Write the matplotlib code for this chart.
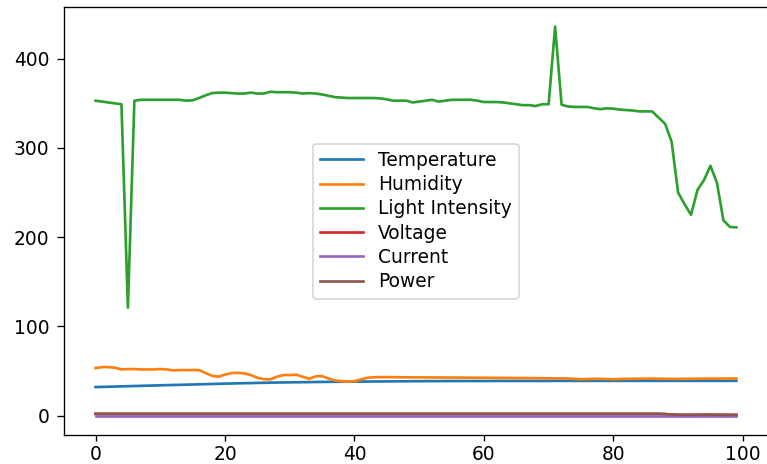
import matplotlib
matplotlib.use("Agg")
import matplotlib.pyplot as plt

# sensor readings, one per sample index
temperature = [
    32.0, 32.2, 32.4, 32.6, 32.8, 33.0, 33.2, 33.4, 33.6, 33.8,
    34.0, 34.2, 34.4, 34.5, 34.7, 34.9, 35.1, 35.3, 35.5, 35.7,
    35.9, 36.0, 36.2, 36.4, 36.5, 36.7, 36.8, 37.0, 37.1, 37.2,
    37.3, 37.4, 37.5, 37.6, 37.7, 37.8, 37.9, 38.0, 38.0, 38.1,
    38.1, 38.2, 38.2, 38.3, 38.3, 38.4, 38.4, 38.5, 38.5, 38.6,
    38.6, 38.7, 38.7, 38.7, 38.8, 38.8, 38.8, 38.8, 38.8, 38.8,
    38.8, 38.8, 38.9, 38.9, 38.9, 38.9, 38.9, 38.9, 38.9, 38.9,
    38.9, 39.0, 39.0, 39.0, 39.0, 39.0, 39.0, 39.0, 39.0, 39.0,
    39.0, 39.0, 39.0, 39.0, 39.0, 39.0, 39.0, 39.0, 39.0, 39.0,
    39.0, 39.0, 39.0, 39.0, 39.0, 39.0, 39.0, 39.0, 39.0, 39.0,
]
humidity = [
    53.3, 54.4, 54.4, 53.7, 51.8, 52.2, 52.2, 51.8, 51.8, 51.8,
    52.2, 51.8, 50.7, 51.1, 51.1, 51.1, 51.1, 47.7, 44.7, 43.6,
    46.0, 47.7, 48.0, 47.3, 45.5, 42.4, 40.9, 40.6, 43.6, 45.5,
    45.5, 45.9, 43.6, 41.3, 44.0, 44.3, 41.7, 39.4, 38.7, 38.0,
    38.7, 40.6, 42.4, 43.0, 43.2, 43.2, 43.1, 43.0, 43.0, 42.9,
    42.9, 42.9, 42.8, 42.8, 42.8, 42.7, 42.7, 42.6, 42.6, 42.5,
    42.5, 42.4, 42.4, 42.3, 42.3, 42.2, 42.2, 42.1, 42.0, 41.9,
    41.9, 41.8, 41.8, 41.6, 41.2, 40.8, 41.0, 41.3, 41.3, 41.0,
    40.7, 41.1, 41.3, 41.3, 41.4, 41.4, 41.5, 41.4, 41.3, 41.2,
    41.2, 41.3, 41.3, 41.4, 41.4, 41.5, 41.5, 41.6, 41.6, 41.6,
]
light_intensity = [
    353, 352, 351, 350, 349, 121, 353, 354, 354, 354,
    354, 354, 354, 354, 353, 353.5, 356, 359, 361.5, 362,
    362, 361.5, 361, 361, 362, 361, 361, 363, 362.5, 362.5,
    362.5, 362, 361, 361.5, 361, 360, 358.5, 357, 356.5, 356,
    356, 356, 356, 356, 355.5, 354.5, 353, 353, 353, 351,
    352, 353, 354, 352, 353, 354, 354, 354, 354, 353,
    351.5, 351.5, 351.5, 351, 350, 349, 348, 348, 347, 349,
    349, 436, 348.5, 346.5, 346, 346, 346, 344.5, 343.5, 344.5,
    344, 343, 342.5, 342, 341, 341, 341, 334, 327, 307,
    250, 237, 225, 253, 264, 280, 261, 219, 211.5, 211,
]
voltage = [
    2.0, 2.0, 2.0, 2.0, 2.0, 2.0, 2.0, 2.0, 2.0, 2.0,
    2.0, 2.0, 2.0, 2.0, 2.0, 2.0, 2.0, 2.0, 2.0, 2.0,
    2.0, 2.0, 2.0, 2.0, 2.0, 2.0, 2.0, 2.0, 2.0, 2.0,
    2.0, 2.0, 2.0, 2.0, 2.0, 2.0, 2.0, 2.0, 2.0, 2.0,
    2.0, 2.0, 2.0, 2.0, 2.0, 2.0, 2.0, 2.0, 2.0, 2.0,
    2.0, 2.0, 2.0, 2.0, 2.0, 2.0, 2.0, 2.0, 2.0, 2.0,
    2.0, 2.0, 2.0, 2.0, 2.0, 2.0, 2.0, 2.0, 2.0, 2.0,
    2.0, 2.0, 2.0, 2.0, 2.0, 2.0, 2.0, 2.0, 2.0, 2.0,
    2.0, 2.0, 2.0, 2.0, 2.0, 2.0, 2.0, 2.0, 1.7, 1.2,
    0.9, 0.8, 0.8, 0.9, 1.0, 1.0, 0.9, 0.8, 0.8, 0.8,
]
current = [
    0.1, 0.1, 0.1, 0.1, 0.1, 0.1, 0.1, 0.1, 0.1, 0.1,
    0.1, 0.1, 0.1, 0.1, 0.1, 0.1, 0.1, 0.1, 0.1, 0.1,
    0.1, 0.1, 0.1, 0.1, 0.1, 0.1, 0.1, 0.1, 0.1, 0.1,
    0.1, 0.1, 0.1, 0.1, 0.1, 0.1, 0.1, 0.1, 0.1, 0.1,
    0.1, 0.1, 0.1, 0.1, 0.1, 0.1, 0.1, 0.1, 0.1, 0.1,
    0.1, 0.1, 0.1, 0.1, 0.1, 0.1, 0.1, 0.1, 0.1, 0.1,
    0.1, 0.1, 0.1, 0.1, 0.1, 0.1, 0.1, 0.1, 0.1, 0.1,
    0.1, 0.1, 0.1, 0.1, 0.1, 0.1, 0.1, 0.1, 0.1, 0.1,
    0.1, 0.1, 0.1, 0.1, 0.1, 0.1, 0.1, 0.1, 0.1, 0.1,
    0.1, 0.1, 0.1, 0.1, 0.1, 0.1, 0.1, 0.1, 0.1, 0.1,
]
power = [
    2.1, 2.1, 2.1, 2.1, 2.1, 2.1, 2.1, 2.1, 2.1, 2.1,
    2.1, 2.1, 2.1, 2.1, 2.1, 2.1, 2.1, 2.1, 2.1, 2.1,
    2.1, 2.1, 2.1, 2.1, 2.1, 2.1, 2.1, 2.1, 2.1, 2.1,
    2.1, 2.1, 2.1, 2.1, 2.1, 2.1, 2.1, 2.1, 2.1, 2.1,
    2.1, 2.1, 2.1, 2.1, 2.1, 2.1, 2.1, 2.1, 2.1, 2.1,
    2.1, 2.1, 2.1, 2.1, 2.1, 2.1, 2.1, 2.1, 2.1, 2.1,
    2.1, 2.1, 2.1, 2.1, 2.1, 2.1, 2.1, 2.1, 2.1, 2.1,
    2.1, 2.1, 2.1, 2.1, 2.1, 2.1, 2.1, 2.1, 2.1, 2.1,
    2.1, 2.1, 2.1, 2.1, 2.1, 2.1, 2.1, 2.1, 1.8, 1.3,
    1.0, 0.9, 0.9, 1.0, 1.1, 1.1, 1.0, 0.9, 0.9, 0.9,
]

series = {
    "Temperature": temperature,
    "Humidity": humidity,
    "Light Intensity": light_intensity,
    "Voltage": voltage,
    "Current": current,
    "Power": power,
}

dpi = 120
plt.rcParams["font.size"] = 11.2
fig = plt.figure(figsize=(767 / dpi, 464 / dpi), dpi=dpi)
# right spine sits just past the image edge in the reference
ax = fig.add_axes([0.0828, 0.0625, 0.919, 0.922])

for name, values in series.items():
    ax.plot(range(len(values)), values, label=name, linewidth=1.6)

ax.tick_params(axis="y", length=4.0, pad=4.5)
ax.tick_params(axis="x", pad=2.2)
ax.legend(loc="center", labelspacing=0.28, handlelength=2.3)

fig.savefig("out.png", dpi=dpi)
